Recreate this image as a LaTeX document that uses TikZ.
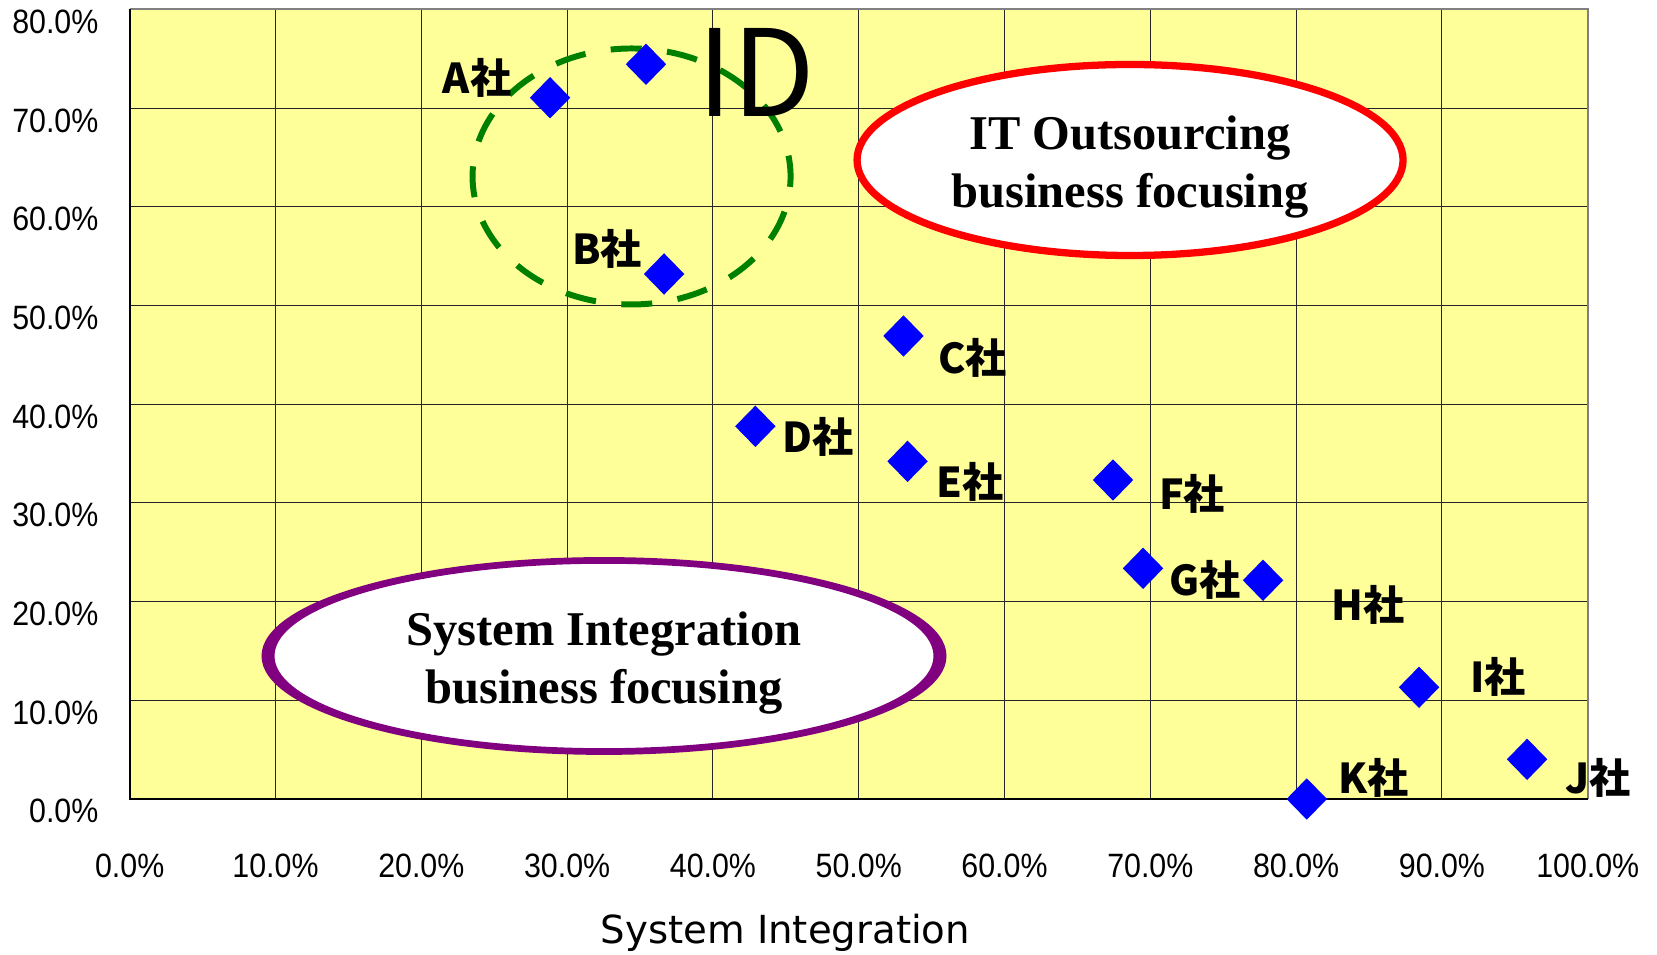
\documentclass[tikz,border=0pt]{standalone}
\usepackage{fontspec}
\setmainfont{Liberation Serif}
\newfontfamily\cjkfont{Noto Sans CJK JP}
\newfontfamily\tickfont{Liberation Sans}[FakeStretch=0.9]
\newfontfamily\titlefont{DejaVu Sans}
\usetikzlibrary{shapes.geometric}
\definecolor{plotbg}{RGB}{255,255,153}
\definecolor{idgreen}{RGB}{0,128,0}
\definecolor{sipurple}{RGB}{128,0,128}
\tikzset{%
    dmd/.style={diamond,fill=blue,inner sep=0pt,minimum width=0.41cm,minimum height=0.42cm},
    firm/.style={font=\cjkfont\bfseries\fontsize{11.7}{13}\selectfont,inner sep=0pt},
    ticklbl/.style={font=\tickfont\fontsize{9.6}{11}\selectfont,inner sep=0pt},
    bubble/.style={ellipse,fill=white,align=center,inner sep=0pt,text height=30pt,
        font=\bfseries\fontsize{13.8}{16.4}\selectfont}
}

\begin{document}
\begin{tikzpicture}[x=1.458cm,y=0.987cm]
    \useasboundingbox (-0.8896,-1.5704) rectangle (10.475,8.0952);
    % plot area
    \fill[plotbg] (0,0) rectangle (10,8);
    \draw[black!85,line width=0.3pt,step=1] (0,0) grid (10,8);
    \draw[gray,line width=0.5pt] (0,8) -- (10,8) -- (10,0);
    \draw[line width=0.6pt] (0,8) -- (0,0) -- (10,0);

    % axes
    \foreach \k in {0,...,8}{
        \pgfmathtruncatemacro\v{10*\k}
        \node[ticklbl,anchor=base east] (y\k) at (-0.21,\k-0.243) {\v.0\%};
    }
    \foreach \k in {0,...,10}{
        \pgfmathtruncatemacro\v{10*\k}
        \node[ticklbl,anchor=base] (x\k) at (\k,-0.8) {\v.0\%};
    }
    \node[font=\titlefont\fontsize{11}{13}\selectfont,anchor=base] (xt) at (4.497,-1.459) {System Integration};

    % groups
    \node[ellipse,draw=idgreen,line width=1.7pt,dash pattern=on 0.31cm off 0.255cm,dash phase=0.1cm,
        minimum width=3.18cm,minimum height=2.56cm] (idring) at (3.442,6.307) {};
    \node[font=\cjkfont\fontsize{34.2}{36}\selectfont,inner sep=0pt] (idtxt) at (4.296,7.366) {ID};
    \node[bubble,draw=red,line width=2.07pt,minimum width=5.46cm,minimum height=1.91cm] (ito) at (6.861,6.474)
        {IT Outsourcing\\business focusing};
    \node[bubble,minimum width=6.64cm,minimum height=1.88cm] (sib) at (3.253,1.449)
        {System Integration\\business focusing};
    \fill[sipurple,even odd rule] (sib.center) ellipse [x radius=3.425cm,y radius=0.989cm]
        (sib.center) ellipse [x radius=3.295cm,y radius=0.922cm];

    % firms
    \node[firm] (lA) at (2.382,7.305) {A社};
    \node[firm] (lB) at (3.274,5.572) {B社};
    \node[firm] (lC) at (5.781,4.468) {C社};
    \node[firm] (lD) at (4.721,3.673) {D社};
    \node[firm] (lE) at (5.763,3.212) {E社};
    \node[firm] (lF) at (7.286,3.090) {F社};
    \node[firm] (lG) at (7.375,2.219) {G社};
    \node[firm] (lH) at (8.493,1.966) {H社};
    \node[firm] (lI) at (9.385,1.236) {I社};
    \node[firm] (lJ) at (10.071,0.218) {J社};
    \node[firm] (lK) at (8.534,0.213) {K社};

    \node[dmd] (pA) at (2.883,7.105) {};
    \node[dmd] (pX) at (3.541,7.444) {};
    \node[dmd] (pB) at (3.665,5.319) {};
    \node[dmd] (pC) at (5.307,4.691) {};
    \node[dmd] (pD) at (4.291,3.776) {};
    \node[dmd] (pE) at (5.335,3.421) {};
    \node[dmd] (pF) at (6.744,3.232) {};
    \node[dmd] (pG) at (6.950,2.337) {};
    \node[dmd] (pH) at (7.773,2.216) {};
    \node[dmd] (pI) at (8.843,1.132) {};
    \node[dmd] (pJ) at (9.584,0.402) {};
    \node[dmd] (pK) at (8.073,0) {};
\end{tikzpicture}
\end{document}
